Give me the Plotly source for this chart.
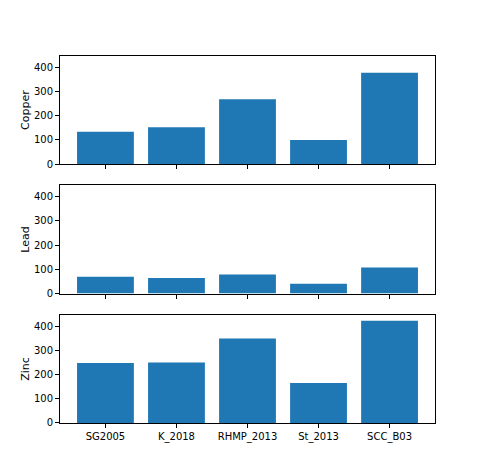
import plotly.graph_objs as go
from plotly.subplots import make_subplots

# Proben und Metallgehalte
samples = ['SG2005', 'K_2018', 'RHMP_2013', 'St_2013', 'SCC_B03']
copper = [134, 152, 268, 100, 377]
lead = [69, 64, 79, 40, 108]
zinc = [247, 250, 348, 165, 422]
metals = ['Copper', 'Lead', 'Zinc']
y_ticks = [0, 100, 200, 300, 400]

fig = make_subplots(rows=3, cols=1, shared_xaxes=True, vertical_spacing=0.058)

for i, vals in enumerate([copper, lead, zinc]):
    fig.add_trace(go.Bar(
        x=samples,
        y=vals,
        marker={"color": '#1f77b4', "line": {"width": 0}},
        name=metals[i],
        showlegend=False
    ), row=i + 1, col=1)

    fig.update_yaxes(
        title=go.layout.yaxis.Title(text=metals[i], font={"size": 11}, standoff=2),
        range=[0, 446],
        tickvals=y_ticks,
        row=i + 1, col=1
    )

fig.update_xaxes(
    type='category',
    range=[-0.64, 4.64],
    showline=True, mirror=True, linecolor='black', linewidth=1,
    ticks='outside', ticklen=4, tickcolor='black',
    showgrid=False, zeroline=False,
    tickfont={"size": 10, "color": 'black'}
)
fig.update_yaxes(
    showline=True, mirror=True, linecolor='black', linewidth=1,
    ticks='outside', ticklen=4, tickcolor='black',
    showgrid=False, zeroline=False,
    tickfont={"size": 10, "color": 'black'}
)

# Seite hat 8px Rand, daher Ränder verschoben
fig.update_layout(
    width=484, height=475,
    margin=dict(l=52, r=57, t=48, b=60),
    bargap=0.2,
    plot_bgcolor='white', paper_bgcolor='white',
    font={"family": 'DejaVu Sans', "color": 'black'}
)

fig.write_html("out.html")
